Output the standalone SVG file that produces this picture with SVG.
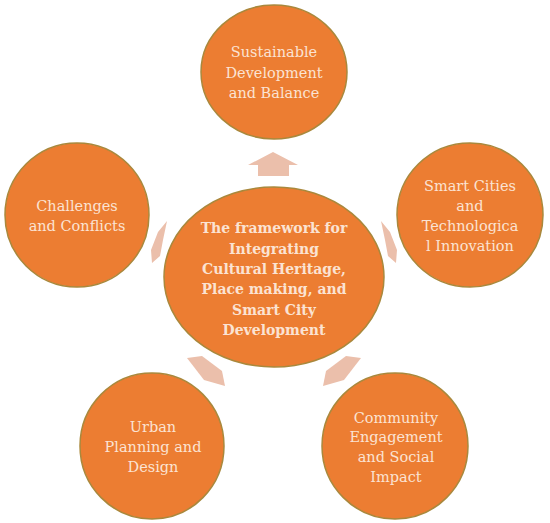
<svg xmlns="http://www.w3.org/2000/svg" width="550" height="523" viewBox="0 0 550 523">
<style>
.c{fill:#ec7d32;stroke:#a9883c;stroke-width:1.5}
.t{font-family:"DejaVu Serif","Liberation Serif",serif;font-size:14.5px;fill:#fbe3d3;text-anchor:middle}
.b{font-family:"DejaVu Serif","Liberation Serif",serif;font-size:14px;font-weight:bold;fill:#fbe3d3;text-anchor:middle}
.a{fill:#ebbfab}
</style>
<rect width="550" height="523" fill="#ffffff"/>
<g id="connectors">
<polygon class="a" points="273,152 298,165 289,165 289,176 258,176 258,165 248,165"/>
<polygon class="a" points="381,221 390,232 397,250 396,263 388,256 385,240"/>
<polygon class="a" points="167,221 158,232 151,250 152,263 160,256 163,240"/>
<polygon class="a" points="187,358 202,356 222,371 225,386 204,380"/>
<polygon class="a" points="361,358 346,356 326,371 323,386 344,380"/>
</g>
<g id="center">
<ellipse class="c" cx="274" cy="277" rx="110" ry="90"/>
<text class="b" x="274" y="233.3">The framework for</text>
<text class="b" x="274" y="253.6">Integrating</text>
<text class="b" x="274" y="273.9">Cultural Heritage,</text>
<text class="b" x="274" y="294.2">Place making, and</text>
<text class="b" x="274" y="314.5">Smart City</text>
<text class="b" x="274" y="334.8">Development</text>
</g>
<g id="sustainable">
<ellipse class="c" cx="274" cy="72" rx="73" ry="67"/>
<text class="t" x="274" y="57">Sustainable</text>
<text class="t" x="274" y="77.5">Development</text>
<text class="t" x="274" y="98">and Balance</text>
</g>
<g id="smart-cities">
<ellipse class="c" cx="470" cy="215" rx="73" ry="72"/>
<text class="t" x="470" y="190.5">Smart Cities</text>
<text class="t" x="470" y="210.5">and</text>
<text class="t" x="470" y="230.5">Technologica</text>
<text class="t" x="470" y="250.5">l Innovation</text>
</g>
<g id="challenges">
<ellipse class="c" cx="77" cy="215" rx="72" ry="72"/>
<text class="t" x="77" y="210.7">Challenges</text>
<text class="t" x="77" y="230.7">and Conflicts</text>
</g>
<g id="urban">
<ellipse class="c" cx="152" cy="446" rx="72" ry="73"/>
<text class="t" x="153" y="431.7">Urban</text>
<text class="t" x="153" y="452">Planning and</text>
<text class="t" x="153" y="471.7">Design</text>
</g>
<g id="community">
<ellipse class="c" cx="395" cy="446" rx="73" ry="73"/>
<text class="t" x="396" y="422.7">Community</text>
<text class="t" x="396" y="441.7">Engagement</text>
<text class="t" x="396" y="461.7">and Social</text>
<text class="t" x="396" y="481.7">Impact</text>
</g>
</svg>
